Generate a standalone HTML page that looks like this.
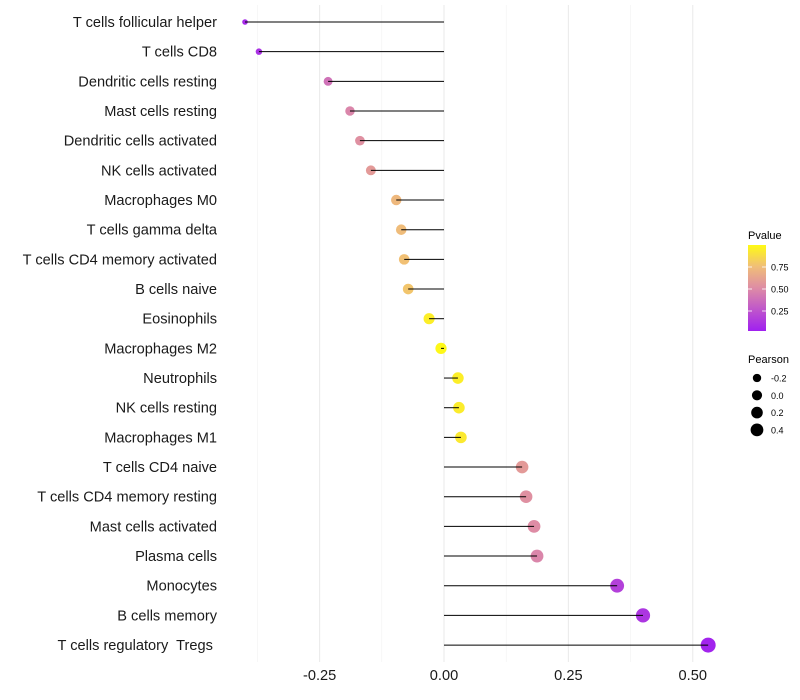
<!DOCTYPE html>
<html><head><meta charset="utf-8"><style>body{margin:0;background:#fff}svg{display:block;font-family:"Liberation Sans",sans-serif}text{white-space:pre}</style></head>
<body>
<svg id="c" width="800" height="700"></svg>
<script>
const categories=["T cells follicular helper","T cells CD8","Dendritic cells resting","Mast cells resting","Dendritic cells activated","NK cells activated","Macrophages M0","T cells gamma delta","T cells CD4 memory activated","B cells naive","Eosinophils","Macrophages M2","Neutrophils","NK cells resting","Macrophages M1","T cells CD4 naive","T cells CD4 memory resting","Mast cells activated","Plasma cells","Monocytes","B cells memory","T cells regulatory  Tregs "];
const pearson=[-0.400,-0.372,-0.233,-0.189,-0.169,-0.147,-0.096,-0.086,-0.080,-0.072,-0.030,-0.006,0.028,0.030,0.034,0.157,0.165,0.181,0.187,0.348,0.400,0.531];
const pvalue=[0.05,0.08,0.38,0.47,0.52,0.57,0.72,0.74,0.76,0.78,0.95,0.99,0.95,0.94,0.93,0.57,0.52,0.5,0.47,0.15,0.1,0.02];
const xTicks=[-0.25,0,0.25,0.5];
const xTickLabels=["-0.25","0.00","0.25","0.50"];
const pTicks=[0.25,0.5,0.75];
const sizeLegend=[-0.2,0,0.2,0.4];
const NS="http://www.w3.org/2000/svg",svg=document.getElementById('c');
function el(t,a,p){const e=document.createElementNS(NS,t);for(const k in a)e.setAttribute(k,a[k]);(p||svg).appendChild(e);return e;}
const x=v=>444+v*497.5;
const y=i=>22+i*29.67;
const r=v=>2+5.5*Math.sqrt(Math.max(0,(v+0.42)/0.95));
function col(p){const stops=[[0,[160,32,240]],[0.5,[222,140,165]],[0.75,[240,190,120]],[1,[255,250,20]]];
for(let i=1;i<stops.length;i++){if(p<=stops[i][0]){const a=stops[i-1],b=stops[i],t=(p-a[0])/(b[0]-a[0]);return 'rgb('+a[1].map((c,j)=>Math.round(c+(b[1][j]-c)*t)).join(',')+')';}}return 'rgb(255,250,20)';}
const grid=el('g',{});
[-0.375,-0.125,0.125,0.375].forEach(v=>el('line',{x1:x(v),x2:x(v),y1:5,y2:662,stroke:'#f2f2f2','stroke-width':0.6},grid));
xTicks.forEach(v=>el('line',{x1:x(v),x2:x(v),y1:5,y2:662,stroke:'#ebebeb','stroke-width':1.1},grid));
categories.forEach((c,i)=>{
const t=el('text',{x:217,y:y(i)+5,'text-anchor':'end','font-size':14.6,fill:'#1a1a1a'});t.textContent=c;

const d=el('circle',{cx:x(pearson[i]),cy:y(i),r:r(pearson[i]),fill:col(pvalue[i])});

const l=el('line',{x1:x(0),x2:x(pearson[i]),y1:y(i),y2:y(i),stroke:'#000','stroke-width':1});

});
xTicks.forEach((v,i)=>{const t=el('text',{x:x(v),y:680,'text-anchor':'middle','font-size':14.6,fill:'#1a1a1a'});t.textContent=xTickLabels[i];
});
const lg=el('g',{});
const tt=el('text',{x:748,y:239,'font-size':11},lg);tt.textContent='Pvalue';
const defs=el('defs',{});const gr=el('linearGradient',{id:'g',x1:0,y1:1,x2:0,y2:0},defs);
[0,0.25,0.5,0.75,1].forEach(p=>el('stop',{offset:p,'stop-color':col(p)},gr));
el('rect',{x:748,y:245,width:18,height:86,fill:'url(#g)'},lg);
const py=p=>333-p*88;
pTicks.forEach(p=>{el('line',{x1:748,x2:752,y1:py(p),y2:py(p),stroke:'#fff','stroke-width':0.8},lg);el('line',{x1:762,x2:766,y1:py(p),y2:py(p),stroke:'#fff','stroke-width':0.8},lg);
const t=el('text',{x:771,y:py(p)+3.5,'font-size':9},lg);t.textContent=p.toFixed(2);});
const sg=el('g',{});
const st=el('text',{x:748,y:363,'font-size':11},sg);st.textContent='Pearson';
sizeLegend.forEach((v,i)=>{const cy=378+i*17.3;el('circle',{cx:757,cy:cy,r:r(v)*0.9,fill:'#000'},sg);
const t=el('text',{x:771,y:cy+3.5,'font-size':9},sg);t.textContent=v.toFixed(1);});
</script>
</body></html>
